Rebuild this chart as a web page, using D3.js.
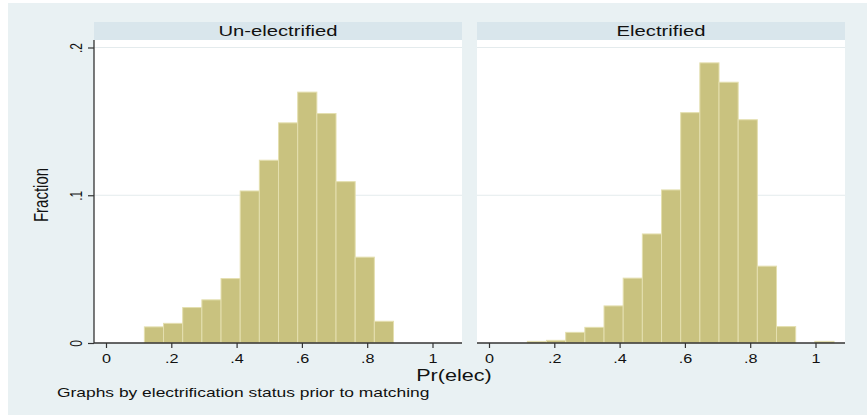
<!DOCTYPE html>
<html>
<head>
<meta charset="utf-8">
<script src="https://cdn.jsdelivr.net/npm/d3@7"></script>
<style>
  html, body { margin: 0; padding: 0; background: #ffffff; }
  svg { display: block; font-family: "Liberation Sans", Arial, Helvetica, sans-serif; }
</style>
</head>
<body>
<svg id="chart" width="867" height="415"></svg>
<script>
// ---- data ----
const panelTitles = ["Un-electrified", "Electrified"];
const binStart = 0.1175;
const binWidth = 0.0587;
const unelectrifiedFraction = [0.0109, 0.0133, 0.0240, 0.0292, 0.0436, 0.1029, 0.1237, 0.1490, 0.1698, 0.1553, 0.1092, 0.0581, 0.0147];
const electrifiedFraction = [0.0011, 0.0018, 0.0072, 0.0106, 0.0251, 0.0439, 0.0738, 0.1036, 0.1559, 0.1896, 0.1765, 0.1511, 0.0520, 0.0111, 0, 0.0011];
const xTickValues = [0, 0.2, 0.4, 0.6, 0.8, 1];
const xTickLabels = ["0", ".2", ".4", ".6", ".8", "1"];
const yTickValues = [0, 0.1, 0.2];
const yTickLabels = ["0", ".1", ".2"];
const yTitle = "Fraction";
const xTitle = "Pr(elec)";
const note = "Graphs by electrification status prior to matching";

// ---- layout ----
const W = 867, H = 415;
const stretch = 1.35;           // horizontal text stretch of the reference
const panelLefts = [94, 477];
const panelW = 368;
const stripTop = 22, stripBottom = 40, plotBottom = 343;
const bgOuter = "#e9f1f3", stripFill = "#d9e6ec";
const barFill = "#c9c27f", barStroke = "#e4dfaf";
const axisColor = "#333333", gridColor = "#e4ebed";

const svg = d3.select("#chart");
svg.append("rect").attr("x", 0).attr("y", 0).attr("width", W).attr("height", H).attr("fill", "#ffffff");
svg.append("rect").attr("x", 8).attr("y", 3).attr("width", W - 8).attr("height", H - 3).attr("fill", bgOuter);

const y = d3.scaleLinear().domain([0, 0.2]).range([plotBottom, 47.5]);

const datasets = [unelectrifiedFraction, electrifiedFraction];

datasets.forEach((vals, pi) => {
  const left = panelLefts[pi];
  const g = svg.append("g");
  const x = d3.scaleLinear().domain([0, 1]).range([left + 12, left + 338.5]);

  // strip
  g.append("rect").attr("x", left).attr("y", stripTop).attr("width", panelW).attr("height", stripBottom - stripTop).attr("fill", stripFill);
  g.append("text")
    .attr("transform", `translate(${left + panelW / 2},36) scale(${stretch},1)`)
    .attr("text-anchor", "middle").attr("font-size", 15).attr("fill", "#111")
    .text(panelTitles[pi]);

  // plot region
  g.append("rect").attr("x", left).attr("y", stripBottom).attr("width", panelW).attr("height", plotBottom - stripBottom).attr("fill", "#ffffff");

  // gridlines
  g.selectAll("line.grid").data(yTickValues.filter(v => v > 0)).join("line")
    .attr("class", "grid")
    .attr("x1", left).attr("x2", left + panelW)
    .attr("y1", d => y(d)).attr("y2", d => y(d))
    .attr("stroke", gridColor).attr("stroke-width", 1);

  // bars
  const bars = vals.map((v, i) => ({ x0: binStart + i * binWidth, x1: binStart + (i + 1) * binWidth, v }))
    .filter(d => d.v > 0);
  g.selectAll("rect.bar").data(bars).join("rect")
    .attr("class", "bar")
    .attr("x", d => x(d.x0)).attr("width", d => x(d.x1) - x(d.x0))
    .attr("y", d => y(d.v)).attr("height", d => y(0) - y(d.v))
    .attr("fill", barFill).attr("stroke", barStroke).attr("stroke-width", 1);

  // x axis
  const xAxis = d3.axisBottom(x).tickValues(xTickValues)
    .tickFormat((d, i) => xTickLabels[i]).tickSize(5).tickSizeOuter(0).tickPadding(4);
  const xg = g.append("g").attr("transform", `translate(0,${plotBottom})`).call(xAxis);
  xg.select(".domain").remove();
  xg.selectAll(".tick line").attr("stroke", axisColor).attr("stroke-width", 1.2);
  xg.selectAll(".tick text")
    .attr("y", 0).attr("dy", 0)
    .attr("transform", `translate(0,20) scale(${stretch},1)`)
    .attr("font-size", 12).attr("font-family", "Liberation Sans, Arial, sans-serif").attr("fill", "#111");
  g.append("line").attr("x1", left).attr("x2", left + panelW).attr("y1", plotBottom).attr("y2", plotBottom)
    .attr("stroke", axisColor).attr("stroke-width", 1.3);

  // y axis on first panel
  if (pi === 0) {
    const yAxis = d3.axisLeft(y).tickValues(yTickValues)
      .tickFormat((d, i) => yTickLabels[i]).tickSize(6).tickSizeOuter(0);
    const yg = g.append("g").attr("transform", `translate(${left},0)`).call(yAxis);
    yg.select(".domain").remove();
    yg.selectAll(".tick line").attr("stroke", axisColor).attr("stroke-width", 1.2);
    yg.selectAll(".tick text")
      .attr("x", 0).attr("dy", 0).attr("text-anchor", "middle")
      .attr("transform", `translate(-12,0) scale(${stretch},1) rotate(-90)`)
      .attr("font-size", 12).attr("font-family", "Liberation Sans, Arial, sans-serif").attr("fill", "#111");
    g.append("line").attr("x1", left).attr("x2", left).attr("y1", stripBottom).attr("y2", plotBottom)
      .attr("stroke", axisColor).attr("stroke-width", 1.3);
  }
});

// axis titles and note
svg.append("text")
  .attr("transform", `translate(48,195) scale(${stretch},1) rotate(-90)`)
  .attr("text-anchor", "middle").attr("font-size", 15).attr("fill", "#111")
  .text(yTitle);
svg.append("text")
  .attr("transform", `translate(454,381) scale(${stretch},1)`)
  .attr("text-anchor", "middle").attr("font-size", 16).attr("fill", "#111")
  .text(xTitle);
svg.append("text")
  .attr("transform", `translate(57,397) scale(${stretch},1)`)
  .attr("text-anchor", "start").attr("font-size", 12.9).attr("fill", "#111")
  .text(note);
</script>
</body>
</html>
